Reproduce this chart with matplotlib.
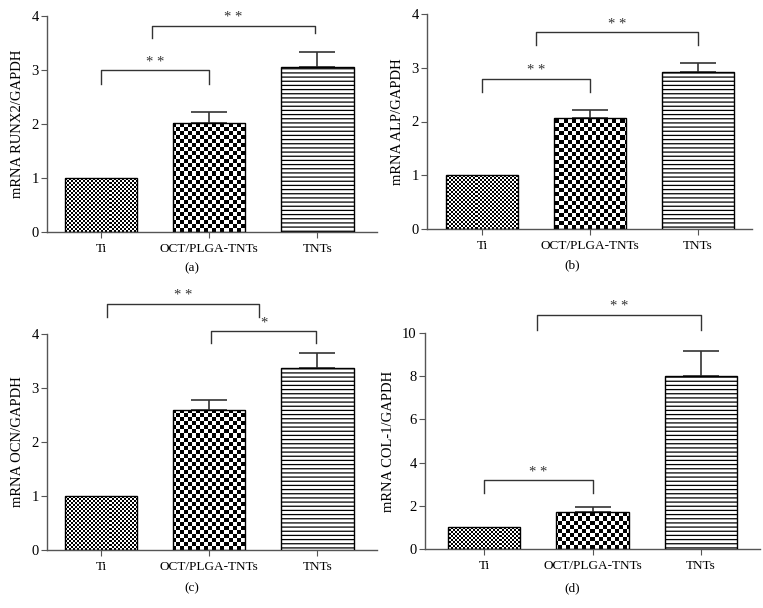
import numpy as np
import matplotlib
matplotlib.use("Agg")
import matplotlib.pyplot as plt

plt.rcParams["font.family"] = ["Liberation Serif", "DejaVu Serif"]
plt.rcParams["hatch.linewidth"] = 0.9

categories = ["Ti", "OCT/PLGA-TNTs", "TNTs"]

runx2_mean = [1.0, 2.02, 3.06]
runx2_err = [0.0, 0.21, 0.27]
alp_mean = [1.0, 2.06, 2.92]
alp_err = [0.0, 0.15, 0.16]
ocn_mean = [1.0, 2.60, 3.37]
ocn_err = [0.0, 0.18, 0.28]
col1_mean = [1.0, 1.73, 8.03]
col1_err = [0.0, 0.23, 1.12]

# significance brackets: (left x, right x, top y, left leg y, right leg y, stars)
runx2_sig = [(0.0, 1.0, 3.0, 2.74, 2.74, "* *"), (0.47, 1.98, 3.82, 3.59, 3.68, "* *")]
alp_sig = [(0.0, 1.0, 2.80, 2.55, 2.55, "* *"), (0.5, 2.0, 3.66, 3.42, 3.42, "* *")]
ocn_sig = [(0.05, 1.46, 4.56, 4.32, 4.32, "* *"), (1.02, 1.99, 4.05, 3.83, 3.83, "*")]
col1_sig = [(0.0, 1.0, 3.19, 2.59, 2.59, "* *"), (0.49, 2.0, 10.85, 10.12, 10.12, "* *")]

W, H = 763, 608
fig = plt.figure(figsize=(W / 100, H / 100), dpi=100)

panels = [
    # rect in pixels (left, top, width, height), xlim, ylim top, yticks, ylabel, data, tag
    ((47, 16, 330, 216), (-0.5, 2.55), 4, np.arange(0, 5, 1), "mRNA RUNX2/GAPDH",
     runx2_mean, runx2_err, runx2_sig, "(a)", (192, 268)),
    ((427, 14, 325, 215), (-0.51, 2.5), 4, np.arange(0, 5, 1), "mRNA ALP/GAPDH",
     alp_mean, alp_err, alp_sig, "(b)", (572, 265)),
    ((47, 334, 330, 216), (-0.5, 2.55), 4, np.arange(0, 5, 1), "mRNA OCN/GAPDH",
     ocn_mean, ocn_err, ocn_sig, "(c)", (192, 588)),
    ((425, 333, 335, 216), (-0.55, 2.55), 10, np.arange(0, 11, 2), "mRNA COL-1/GAPDH",
     col1_mean, col1_err, col1_sig, "(d)", (572, 588)),
]


def checker(nx, ny):
    return np.add.outer(np.arange(ny), np.arange(nx)) % 2


for rect, xlim, ytop, yticks, ylabel, mean, err, sig, tag, tagpos in panels:
    l, t, w, h = rect
    ax = fig.add_axes([l / W, (H - t - h) / H, w / W, h / H])
    x = np.arange(len(categories))

    bars = ax.bar(x, mean, width=0.667, facecolor="white", edgecolor="black",
                  linewidth=1.0, zorder=3)
    bars[0].set_facecolor("none")
    bars[1].set_facecolor("none")
    bars[2].set_hatch("----")

    ext = (xlim[0], xlim[1], 0, ytop)
    for bar, cell in [(bars[0], 2), (bars[1], 4)]:
        img = ax.imshow(checker(w // cell, h // cell), cmap="gray", extent=ext,
                        interpolation="nearest", aspect="auto", zorder=2)
        img.set_clip_path(bar)
    ax.set_xlim(*xlim)
    ax.set_ylim(0, ytop)

    idx = [i for i, e in enumerate(err) if e > 0]
    ax.errorbar(x[idx], np.array(mean)[idx],
                yerr=[np.zeros(len(idx)), np.array(err)[idx]],
                fmt="none", ecolor="#333333", elinewidth=1.2, capsize=13,
                capthick=1.2, zorder=2.5)

    for x1, x2, yt, yl1, yl2, s in sig:
        ax.plot([x1, x1, x2, x2], [yl1, yt, yt, yl2], color="#333333", lw=1.0,
                clip_on=False, zorder=4)
        ax.annotate(s, ((x1 + x2) / 2, yt), xytext=(0, 1), textcoords="offset points",
                    ha="center", va="bottom", fontsize=10.5, color="#333333",
                    annotation_clip=False)

    for side in ["top", "right"]:
        ax.spines[side].set_visible(False)
    for side in ["left", "bottom"]:
        ax.spines[side].set_color("#555555")
        ax.spines[side].set_linewidth(1.0)

    ax.set_xticks(x)
    ax.set_xticklabels(categories, fontsize=9.5)
    ax.set_yticks(yticks)
    ax.tick_params(axis="y", labelsize=10.5, length=4, color="#555555", pad=2)
    ax.tick_params(axis="x", length=4, color="#555555", pad=4)
    ax.set_ylabel(ylabel, fontsize=10.5, labelpad=5)

    fig.text(tagpos[0] / W, 1 - tagpos[1] / H, tag, ha="center", va="center", fontsize=9.5)

fig.savefig("out.png", dpi=100)
